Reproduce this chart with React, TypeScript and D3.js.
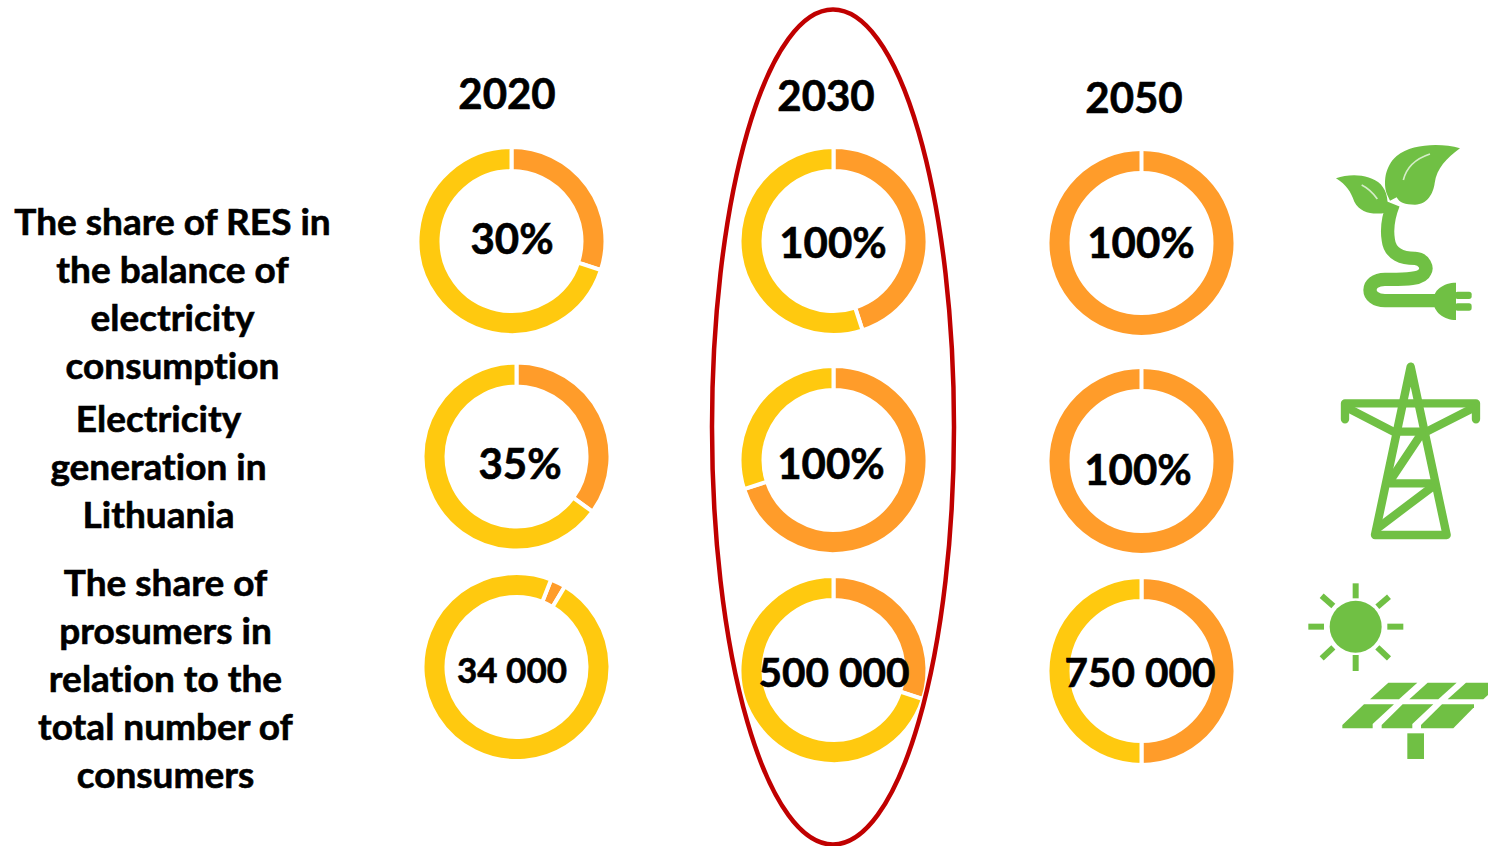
import React from 'react'
import * as d3 from 'd3'

const years = ['2020', '2030', '2050']

// where the orange part starts (percent of the turn from the top), and how big it is
const start2020 = [0, 0, 6]
const orange2020 = [30, 35, 2.6]
const start2030 = [0, 0, 0]
const orange2030 = [45, 70, 30]
const start2050 = [0, 0, 0]
const orange2050 = [100, 100, 50]

const labels2020 = ['30%', '35%', '34 000']
const labels2030 = ['100%', '100%', '500 000']
const labels2050 = ['100%', '100%', '750 000']

const rowLabels = [
  ['The share of RES in', 'the balance of', 'electricity', 'consumption'],
  ['Electricity', 'generation in', 'Lithuania'],
  ['The share of', 'prosumers in', 'relation to the', 'total number of', 'consumers'],
]

const YELLOW = '#FFC90F'
const ORANGE = '#FF9C2A'
const GREEN = '#70C044'
const RED = '#C00000'
const FONT = 'Lato, Carlito, sans-serif'

const columns = [
  { year: years[0], yearX: 507, yearY: 109, start: start2020, orange: orange2020, labels: labels2020,
    cx: [511.5, 516.5, 516.5], cy: [241, 456.5, 667], lx: [512, 520, 512], ly: [254, 479, 683], size: [42, 42, 35] },
  { year: years[1], yearX: 826, yearY: 111, start: start2030, orange: orange2030, labels: labels2030,
    cx: [833.5, 833.5, 833.5], cy: [241, 460, 670], lx: [833, 831, 834], ly: [258, 479, 687], size: [42, 42, 40.5] },
  { year: years[2], yearX: 1134, yearY: 113, start: start2050, orange: orange2050, labels: labels2050,
    cx: [1141.5, 1141.5, 1141.5], cy: [243, 461, 671], lx: [1141, 1138, 1140], ly: [258, 485, 687], size: [42, 42, 40.5] },
]

const rowBlocks = [
  { x: 172.5, baselines: [235, 283, 331, 379] },
  { x: 158.5, baselines: [432, 480, 528] },
  { x: 165.5, baselines: [596, 644, 692, 740, 788] },
]

const arc = d3.arc<d3.PieArcDatum<number>>().innerRadius(70).outerRadius(94)
const sliceColors = [ORANGE, YELLOW]

const Donut = ({ x, y, start, orange }: { x: number; y: number; start: number; orange: number }) => {
  const a0 = (start / 100) * 2 * Math.PI
  const pie = d3.pie<number>().sort(null).value((d) => d).startAngle(a0).endAngle(a0 + 2 * Math.PI)
  return (
    <g transform={`translate(${x},${y})`}>
      {pie([orange, 100 - orange]).map((s, i) => (
        <path key={i} d={arc(s) || ''} fill={sliceColors[i]} stroke="#fff" strokeWidth={4} />
      ))}
    </g>
  )
}

const Leaf = () => (
  <g transform="translate(1290,130) scale(0.3333)">
    <path fill={GREEN} d="M510 55 C450 38 365 42 320 78 C285 108 278 160 292 195 L300 212 L320 202 C328 218 345 224 375 224 C412 224 430 190 434 160 C440 115 470 85 510 55 Z" />
    <path fill="none" stroke="#fff" strokeOpacity={0.7} strokeWidth={5} d="M340 150 C350 110 380 85 420 72" />
    <path fill={GREEN} d="M138 145 C180 130 240 132 272 163 C292 185 298 218 288 248 C250 256 210 248 193 215 C182 185 170 165 138 145 Z" />
    <path fill="none" stroke="#fff" strokeOpacity={0.7} strokeWidth={5} d="M215 165 C235 175 250 190 262 207" />
    <path fill="none" stroke={GREEN} strokeWidth={40} d="M310 222 C295 260 290 300 295 330 C300 375 340 385 375 385 C405 387 412 415 405 425 C395 450 340 448 285 448 C225 448 225 512 285 512 L440 512" />
    <path fill={GREEN} d="M498 458 C460 458 430 480 430 512 C430 545 460 570 498 570 Z" />
    <rect x={495} y={485} width={50} height={22} rx={8} fill={GREEN} />
    <rect x={495} y={520} width={50} height={22} rx={8} fill={GREEN} />
  </g>
)

const Tower = () => (
  <g transform="translate(1290,350) scale(0.3333)" fill="none" stroke={GREEN} strokeWidth={25} strokeLinecap="round" strokeLinejoin="round">
    <path d="M255 555 L362 50 L470 555 Z" />
    <path d="M165 208 L165 160 L558 160 L558 208" />
    <path d="M175 175 L310 245 L410 245 L548 175" />
    <path d="M395 250 L305 385" />
    <path d="M300 400 L430 400" />
    <path d="M425 412 L262 535" />
  </g>
)

const sunRays = [
  'M197 40 L197 85', 'M197 255 L197 303', 'M55 170 L102 170', 'M292 170 L340 170',
  'M95 77 L130 108', 'M297 80 L262 110', 'M95 265 L130 232', 'M297 265 L262 232',
]
const panels = [
  'M240 388 L295 338 L382 338 L327 388 Z',
  'M358 388 L413 338 L500 338 L445 388 Z',
  'M473 388 L528 338 L594 338 L594 375 L580 388 Z',
  'M157 475 L157 465 L222 403 L312 403 L248 462 L248 475 Z',
  'M275 475 L275 465 L338 403 L430 403 L367 462 L367 475 Z',
  'M393 475 L393 465 L456 403 L552 403 L552 412 L490 475 Z',
]

const Solar = () => (
  <g transform="translate(1290,570) scale(0.3333)" fill={GREEN}>
    <circle cx={197} cy={170} r={78} />
    {sunRays.map((d) => <path key={d} d={d} stroke={GREEN} strokeWidth={18} fill="none" />)}
    {panels.map((d) => <path key={d} d={d} />)}
    <rect x={352} y={490} width={50} height={77} />
  </g>
)

export default function App() {
  return (
    <svg width={1488} height={846} style={{ position: 'absolute', left: 0, top: 0, display: 'block', background: '#fff', fontVariantLigatures: 'none' }} fontFamily={FONT} fontWeight={700} fill="#000">
      {columns.map((c) => c.orange.map((o, r) => (
        <Donut key={c.year + r} x={c.cx[r]} y={c.cy[r]} start={c.start[r]} orange={o} />
      )))}
      <ellipse cx={833} cy={427} rx={121} ry={417.5} fill="none" stroke={RED} strokeWidth={4.5} />
      <g stroke="#000" strokeWidth={0.6}>
        {columns.map((c) => (
          <g key={c.year} textAnchor="middle">
            <text x={c.yearX} y={c.yearY} fontSize={42}>{c.year}</text>
            {c.labels.map((l, r) => (
              <text key={r} x={c.lx[r]} y={c.ly[r]} fontSize={c.size[r]}>{l}</text>
            ))}
          </g>
        ))}
        {rowLabels.map((lines, b) => lines.map((line, i) => (
          <text key={line} x={rowBlocks[b].x} y={rowBlocks[b].baselines[i]} textAnchor="middle" fontSize={37}>{line}</text>
        )))}
      </g>
      <Leaf />
      <Tower />
      <Solar />
    </svg>
  )
}
